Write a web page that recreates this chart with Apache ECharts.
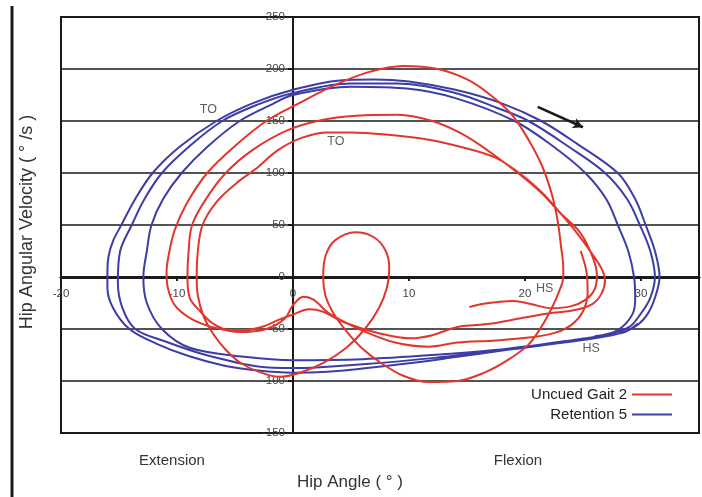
<!DOCTYPE html>
<html>
<head>
<meta charset="utf-8">
<script src="https://cdn.jsdelivr.net/npm/echarts@6/dist/echarts.min.js"></script>
<style>
  html, body { margin: 0; padding: 0; background: #ffffff; }
  #chart { width: 702px; height: 497px; }
</style>
</head>
<body>
<div id="chart"></div>
<script>
// Hip phase-plane: angle (deg) vs angular velocity (deg/s), three consecutive strides per trial.

const seriesNames = ['Uncued Gait 2', 'Retention 5'];

// Uncued walking: irregular strides with a hesitation loop mid-stance
const uncuedGait2 = [
  [24.8, 25], [25.3, 5], [25.4, -15], [25.0, -33], [24.0, -46], [22.5, -54], [20.5, -58], [17.5, -61],
  [14.2, -63], [11.7, -67], [8.8, -63], [5.9, -51], [3.1, -35], [1.8, -22], [0.9, -19], [0.0, -27],
  [-0.7, -40], [-2.3, -50], [-4.6, -53], [-7.0, -48], [-8.8, -40], [-10.2, -27], [-10.8, -10], [-10.9, 5],
  [-10.7, 22], [-10.2, 45], [-9.2, 70], [-7.4, 100], [-5.0, 126], [-2.3, 150], [0.5, 167], [3.5, 184],
  [6.5, 197], [9.5, 203], [12.5, 200], [15.0, 190], [16.8, 177], [18.8, 157], [20.3, 132], [21.5, 106],
  [22.3, 80], [22.8, 55], [23.1, 30], [23.3, 8], [23.3, 0], [22.9, -15], [22.3, -30], [21.4, -48],
  [20.3, -65], [18.5, -80], [16.5, -92], [14.2, -100], [11.7, -101], [9.5, -95], [7.5, -82], [5.9, -68],
  [4.6, -52], [3.5, -35], [2.8, -18], [2.6, 0], [2.8, 20], [3.6, 35], [5.4, 43], [7.0, 38],
  [8.0, 25], [8.3, 8], [8.1, -10], [7.4, -30], [6.2, -50], [4.6, -68], [2.7, -82], [0.6, -92],
  [-1.2, -96], [-3.0, -91], [-4.6, -82], [-5.8, -70], [-6.8, -56], [-7.7, -38], [-8.2, -18], [-8.3, 0],
  [-8.2, 25], [-7.8, 50], [-6.6, 72], [-4.9, 90], [-3.2, 104], [-1.3, 122], [0.8, 134], [3.0, 139],
  [5.0, 139], [8.0, 137], [11.7, 132], [14.5, 125], [17.4, 115], [19.5, 100], [21.4, 82], [23.0, 62],
  [24.5, 42], [25.8, 22], [26.6, 8], [26.9, -3], [26.6, -16], [25.8, -26], [24.2, -32], [22.0, -35],
  [19.5, -40], [17.0, -45], [14.2, -48], [12.0, -56], [10.2, -59], [7.4, -54], [4.5, -44], [2.5, -33],
  [1.4, -31], [0.0, -36], [-1.2, -41], [-2.7, -48], [-4.2, -51], [-5.5, -51], [-7.0, -44], [-8.0, -33],
  [-8.9, -20], [-9.1, 0], [-9.0, 25], [-8.7, 50], [-7.5, 75], [-5.8, 100], [-3.5, 122], [-0.5, 141],
  [2.5, 151], [5.5, 155], [9.0, 156], [12.0, 150], [14.5, 138], [17.0, 120], [19.5, 99], [21.4, 81],
  [23.0, 62], [24.8, 42], [25.8, 20], [26.2, 2], [26.0, -12], [25.2, -22], [24.0, -28], [22.3, -30],
  [20.5, -26], [19.0, -23], [17.7, -24], [16.3, -26], [15.2, -29]
];

// Retention walking: smooth, repeatable strides
const retention5 = [
  [29.7, -45], [28.6, -53], [26.5, -57], [22.0, -64], [18.5, -70], [14.0, -77], [10.0, -83], [6.0, -88],
  [3.0, -91], [0.0, -92], [-3.0, -90], [-6.0, -85], [-9.0, -76], [-11.8, -64], [-14.1, -50], [-15.5, -30],
  [-16.0, -10], [-16.0, 5], [-15.9, 20], [-15.5, 35], [-14.8, 50], [-13.6, 75], [-12.1, 100], [-9.8, 125],
  [-6.6, 150], [-3.5, 167], [0.0, 180], [4.0, 189], [7.0, 190], [10.0, 188], [14.0, 180], [18.0, 167],
  [21.4, 150], [24.5, 128], [28.0, 100], [29.5, 75], [30.4, 50], [31.2, 25], [31.6, 0], [31.2, -20],
  [30.6, -35], [29.7, -46], [28.2, -54], [26.0, -59], [22.0, -65], [18.5, -70], [12.0, -78], [6.0, -84],
  [2.0, -87], [0.0, -87.5], [-3.0, -86], [-7.5, -75], [-11.0, -62], [-13.6, -50], [-14.7, -30], [-15.1, -5],
  [-14.9, 25], [-13.9, 50], [-12.8, 75], [-11.3, 100], [-9.0, 125], [-6.1, 150], [-3.0, 166], [0.0, 177],
  [5.0, 186], [9.0, 186], [14.0, 177], [17.5, 163], [20.3, 150], [23.8, 125], [26.9, 100], [28.8, 75],
  [29.9, 50], [30.8, 25], [31.2, 0], [30.8, -20], [30.0, -35], [29.0, -48], [27.2, -55], [24.5, -60],
  [18.5, -69], [12.0, -75], [6.0, -79], [0.0, -80], [-4.0, -77], [-8.9, -68], [-11.3, -50], [-12.6, -25],
  [-12.9, 0], [-12.6, 25], [-12.2, 50], [-11.2, 75], [-9.6, 100], [-7.4, 125], [-4.6, 150], [-2.0, 165],
  [0.0, 175], [5.0, 183], [10.0, 181], [14.0, 172], [19.1, 150], [22.5, 125], [25.2, 100], [27.0, 75],
  [28.0, 50], [28.9, 25], [29.4, 0], [29.5, -20], [29.3, -35], [28.0, -51], [26.0, -57]
];

// Gait events: toe-off (TO) and heel strike (HS)
const eventNames = ['TO', 'TO', 'HS', 'HS'];
const eventPoints = [[-7.3, 160.6], [3.7, 130], [21.7, -11.5], [25.7, -69]];

// Direction-of-travel arrow
const arrowFrom = [21.1, 163.5];
const arrowTo = [25.0, 144];

// Axis ranges and tick spacing
const xRange = [-20, 35];
const xStep = 10;
const yRange = [-150, 250];
const yStep = 50;

// Region captions under the plot
const regionCaptions = ['Extension', 'Flexion'];

const RED = '#e2362c';
const BLUE = '#3d3da6';
const INK = '#1a1a1a';
const FONT = '"Liberation Sans", Arial, sans-serif';

const chart = echarts.init(document.getElementById('chart'), null, { renderer: 'canvas' });

chart.setOption({
  animation: false,
  backgroundColor: '#ffffff',
  grid: {
    left: 61, right: 1, top: 17, bottom: 64,
    show: true, borderColor: INK, borderWidth: 2, backgroundColor: 'transparent'
  },
  xAxis: {
    type: 'value',
    min: xRange[0], max: xRange[1], interval: xStep,
    axisLine: { onZero: false, lineStyle: { color: INK, width: 3 } },
    axisTick: { show: true, length: 4, lineStyle: { color: INK, width: 2 } },
    axisLabel: {
      margin: 11, color: '#444', fontSize: 11.5, fontFamily: FONT,
      formatter: v => (v === xRange[1] ? '' : String(v))
    },
    splitLine: { show: false }
  },
  yAxis: {
    type: 'value',
    min: yRange[0], max: yRange[1], interval: yStep,
    axisLine: { onZero: false, lineStyle: { color: INK, width: 2 } },
    axisTick: { show: true, length: 5, lineStyle: { color: INK, width: 2 } },
    axisLabel: { margin: 8, color: '#444', fontSize: 11.5, fontFamily: FONT },
    splitLine: { show: true, lineStyle: { color: INK, width: 1.7 } }
  },
  legend: {
    data: seriesNames,
    orient: 'vertical',
    align: 'right',
    right: 25, top: 382,
    itemWidth: 40, itemHeight: 14, itemGap: 5,
    textStyle: { color: '#222', fontSize: 15, fontFamily: FONT },
    icon: 'path://M0,6 L40,6 L40,8 L0,8 Z'
  },
  series: [
    {
      name: seriesNames[0], type: 'line', data: uncuedGait2,
      smooth: 0.35, symbol: 'none', z: 4,
      lineStyle: { color: RED, width: 2 }, itemStyle: { color: RED }
    },
    {
      name: seriesNames[1], type: 'line', data: retention5,
      smooth: 0.35, symbol: 'none', z: 3,
      lineStyle: { color: BLUE, width: 2 }, itemStyle: { color: BLUE },
      markLine: {
        silent: true, symbol: ['none', 'arrow'], symbolSize: [8, 10],
        lineStyle: { color: INK, width: 2.5, type: 'solid' },
        label: { show: false },
        data: [[{ coord: arrowFrom }, { coord: arrowTo }]]
      }
    },
    {
      name: 'events', type: 'scatter', symbolSize: 0, z: 6,
      data: eventPoints.map((p, i) => ({ name: eventNames[i], value: p })),
      label: {
        show: true, position: 'inside', formatter: '{b}',
        color: '#333', fontSize: 12.5, fontFamily: FONT
      }
    }
  ],
  graphic: [
    { type: 'line', shape: { x1: 12, y1: 6, x2: 12, y2: 497 }, style: { stroke: INK, lineWidth: 3 } },
    {
      type: 'text', x: 27, y: 222, rotation: Math.PI / 2,
      style: {
        text: 'Hip Angular Velocity ( ° /s )', fill: '#333', font: '18px ' + FONT,
        textAlign: 'center', textVerticalAlign: 'middle'
      }
    },
    {
      type: 'text', x: 350, y: 482,
      style: { text: 'Hip Angle ( ° )', fill: '#333', font: '17px ' + FONT, textAlign: 'center', textVerticalAlign: 'middle' }
    },
    {
      type: 'text', x: 172, y: 461,
      style: { text: regionCaptions[0], fill: '#333', font: '15px ' + FONT, textAlign: 'center', textVerticalAlign: 'middle' }
    },
    {
      type: 'text', x: 518, y: 461,
      style: { text: regionCaptions[1], fill: '#333', font: '15px ' + FONT, textAlign: 'center', textVerticalAlign: 'middle' }
    }
  ]
});

// Move both axes (line, ticks and labels) onto the origin of the plot.
const origin = chart.convertToPixel({ gridIndex: 0 }, [0, 0]);
const corner = chart.convertToPixel({ gridIndex: 0 }, [xRange[0], yRange[0]]);
chart.setOption({
  xAxis: { offset: -(corner[1] - origin[1]) },
  yAxis: { offset: -(origin[0] - corner[0]) }
});
</script>
</body>
</html>
